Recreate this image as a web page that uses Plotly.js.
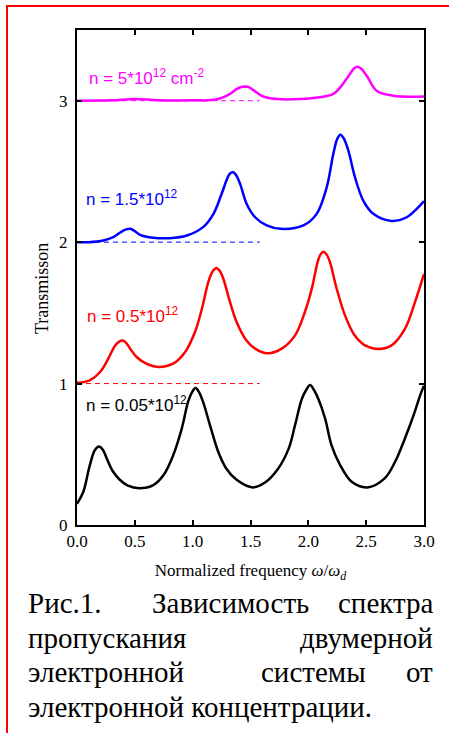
<!DOCTYPE html>
<html>
<head>
<meta charset="utf-8">
<script src="https://cdn.plot.ly/plotly-3.0.1.min.js"></script>
<style>
html, body { margin: 0; padding: 0; background: #ffffff; }
#chart { width: 449px; height: 733px; }
</style>
</head>
<body>
<div id="chart"></div>
<script>
// ---- data ----
var blackX = [0, 0.055, 0.11, 0.155, 0.19, 0.225, 0.26, 0.31, 0.37, 0.44, 0.54, 0.66, 0.75, 0.83, 0.905, 0.96, 0.995, 1.025, 1.055, 1.09, 1.15, 1.22, 1.29, 1.38, 1.52, 1.625, 1.74, 1.83, 1.885, 1.945, 1.985, 2.015, 2.045, 2.085, 2.145, 2.2, 2.275, 2.375, 2.51, 2.66, 2.75, 2.835, 2.92, 2.97, 3.0];
var blackY = [0.15, 0.235, 0.42, 0.53, 0.555, 0.53, 0.465, 0.38, 0.32, 0.278, 0.26, 0.282, 0.355, 0.49, 0.68, 0.87, 0.94, 0.968, 0.94, 0.87, 0.705, 0.52, 0.40, 0.32, 0.266, 0.30, 0.40, 0.54, 0.706, 0.894, 0.96, 0.99, 0.96, 0.894, 0.753, 0.565, 0.424, 0.306, 0.266, 0.33, 0.447, 0.612, 0.80, 0.925, 0.985];

var redX = [0, 0.11, 0.2, 0.27, 0.33, 0.365, 0.395, 0.425, 0.46, 0.515, 0.6, 0.70, 0.83, 0.935, 1.02, 1.08, 1.135, 1.175, 1.205, 1.235, 1.265, 1.323, 1.38, 1.46, 1.54, 1.645, 1.77, 1.885, 1.97, 2.03, 2.08, 2.105, 2.13, 2.158, 2.187, 2.245, 2.317, 2.40, 2.49, 2.61, 2.72, 2.836, 2.922, 3.0];
var redY = [1.005, 1.023, 1.082, 1.176, 1.27, 1.297, 1.305, 1.288, 1.247, 1.188, 1.141, 1.118, 1.141, 1.224, 1.365, 1.529, 1.718, 1.796, 1.818, 1.796, 1.741, 1.576, 1.435, 1.31, 1.247, 1.214, 1.247, 1.341, 1.506, 1.671, 1.859, 1.912, 1.932, 1.912, 1.859, 1.671, 1.482, 1.341, 1.27, 1.245, 1.27, 1.388, 1.576, 1.775];

var blueX = [0, 0.1, 0.228, 0.314, 0.386, 0.425, 0.46, 0.5, 0.545, 0.66, 0.80, 0.95, 1.09, 1.18, 1.25, 1.31, 1.33, 1.351, 1.375, 1.41, 1.467, 1.54, 1.64, 1.76, 1.957, 2.072, 2.159, 2.216, 2.25, 2.277, 2.305, 2.346, 2.403, 2.475, 2.562, 2.72, 2.85, 2.937, 3.0];
var blueY = [2.0, 2.0, 2.012, 2.035, 2.075, 2.09, 2.094, 2.078, 2.052, 2.031, 2.028, 2.047, 2.106, 2.20, 2.341, 2.47, 2.49, 2.494, 2.475, 2.412, 2.27, 2.176, 2.118, 2.094, 2.118, 2.20, 2.388, 2.624, 2.73, 2.76, 2.735, 2.647, 2.459, 2.294, 2.20, 2.15, 2.176, 2.235, 2.29];

var magentaX = [0, 0.3, 0.5, 0.7, 1.0, 1.2, 1.32, 1.38, 1.42, 1.455, 1.49, 1.525, 1.61, 1.73, 1.93, 2.1, 2.22, 2.33, 2.395, 2.424, 2.455, 2.505, 2.59, 2.735, 3.0];
var magentaY = [3.0, 3.003, 3.012, 3.004, 3.003, 3.008, 3.047, 3.082, 3.097, 3.10, 3.094, 3.075, 3.03, 3.012, 3.012, 3.025, 3.05, 3.153, 3.228, 3.24, 3.228, 3.176, 3.071, 3.035, 3.03];

var dashX = [0, 1.58];
var dashLevels = [1, 2, 3];

var xTicks = [0, 0.5, 1.0, 1.5, 2.0, 2.5, 3.0];
var xTickText = ['0.0', '0.5', '1.0', '1.5', '2.0', '2.5', '3.0'];
var yTicks = [0, 1, 2, 3];
var yTickText = ['0', '1', '2', '3'];

var seriesLabels = ['n = 0.05*10<sup>12</sup>', 'n = 0.5*10<sup>12</sup>', 'n = 1.5*10<sup>12</sup>', 'n = 5*10<sup>12</sup> cm<sup>-2</sup>'];
var seriesColors = ['#000000', '#ff0000', '#0000ff', '#ff00ff'];

var xTitle = 'Normalized frequency <i>ω</i>/<i>ω</i><sub><i>d</i></sub>';
var yTitle = 'Transmisson';
var captionLines = [
  ['Рис.1.', 'Зависимость', 'спектра'],
  ['пропускания', 'двумерной'],
  ['электронной', 'системы', 'от'],
  ['электронной концентрации.']
];

var SERIF = "'Liberation Serif', 'Times New Roman', serif";
var SANS = "'Liberation Sans', Arial, sans-serif";

// ---- traces ----
var curveX = [blackX, redX, blueX, magentaX];
var curveY = [blackY, redY, blueY, magentaY];
var traces = [];
for (var d = 0; d < dashLevels.length; d++) {
  traces.push({
    x: dashX, y: [dashLevels[d], dashLevels[d]],
    mode: 'lines', type: 'scatter', showlegend: false, hoverinfo: 'skip',
    line: {color: seriesColors[d + 1], width: 1, dash: '5px,4px'}
  });
}
for (var i = 0; i < curveX.length; i++) {
  traces.push({
    x: curveX[i], y: curveY[i], name: seriesLabels[i],
    mode: 'lines', type: 'scatter', showlegend: false,
    line: {color: seriesColors[i], width: 2.5, shape: 'spline', smoothing: 1}
  });
}

var labelPos = [[0.06, 0.854], [0.069, 1.482], [0.06, 2.31], [0.086, 3.17]];
var annotations = [];
for (var k = 0; k < seriesLabels.length; k++) {
  annotations.push({
    x: labelPos[k][0], y: labelPos[k][1], xref: 'x', yref: 'y',
    text: seriesLabels[k], showarrow: false, xanchor: 'left', yanchor: 'middle',
    font: {family: SANS, size: 17, color: seriesColors[k]}
  });
}

var L = 77, R = 424, T = 30, B = 525;
function px2x(px) { return (px - L) / (R - L); }
function py2y(py) { return (B - py) / (B - T); }

// y-axis title placed at its position in the reference
annotations.push({
  x: px2x(42), y: py2y(289), xref: 'paper', yref: 'paper', textangle: -90,
  text: yTitle, showarrow: false, xanchor: 'center', yanchor: 'middle',
  font: {family: SERIF, size: 18, color: '#000000'}
});

// caption, justified word by word
var lineCenters = [603, 638, 672, 707];
var leftEdge = 27, rightEdge = 434;
var middleCenters = {0: 230, 2: 313.5};
for (var ln = 0; ln < captionLines.length; ln++) {
  var words = captionLines[ln];
  for (var w = 0; w < words.length; w++) {
    var xa, xp;
    if (w === 0) { xa = 'left'; xp = leftEdge; }
    else if (w === words.length - 1) { xa = 'right'; xp = rightEdge; }
    else { xa = 'center'; xp = middleCenters[ln]; }
    annotations.push({
      x: px2x(xp), y: py2y(lineCenters[ln]), xref: 'paper', yref: 'paper',
      text: words[w], showarrow: false, xanchor: xa, yanchor: 'middle',
      borderpad: 0,
      font: {family: SERIF, size: 29, color: '#000000'}
    });
  }
}

var axisCommon = {
  showline: true, linecolor: '#000000', linewidth: 2, mirror: 'ticks',
  ticks: 'inside', ticklen: 5, tickwidth: 1.5, tickcolor: '#000000',
  showgrid: false, zeroline: false, fixedrange: true,
  tickfont: {family: SERIF, size: 17, color: '#000000'}
};

var layout = {
  width: 449, height: 733,
  margin: {l: L, r: 449 - R, t: T, b: 733 - B, pad: 0},
  paper_bgcolor: '#ffffff', plot_bgcolor: '#ffffff',
  showlegend: false,
  xaxis: Object.assign({}, axisCommon, {
    range: [0, 3], tickvals: xTicks, ticktext: xTickText,
    title: {text: xTitle, standoff: 14, font: {family: SERIF, size: 17, color: '#000000'}}
  }),
  yaxis: Object.assign({}, axisCommon, {
    range: [0, 3.5], tickvals: yTicks, ticktext: yTickText, ticklabelstandoff: 4
  }),
  annotations: annotations,
  shapes: [{
    type: 'rect', xref: 'paper', yref: 'paper',
    x0: px2x(7), x1: px2x(470), y0: py2y(760), y1: py2y(6),
    line: {color: '#ff0000', width: 2}, fillcolor: 'rgba(0,0,0,0)', layer: 'above'
  }]
};

Plotly.newPlot('chart', traces, layout, {displayModeBar: false});
</script>
</body>
</html>
